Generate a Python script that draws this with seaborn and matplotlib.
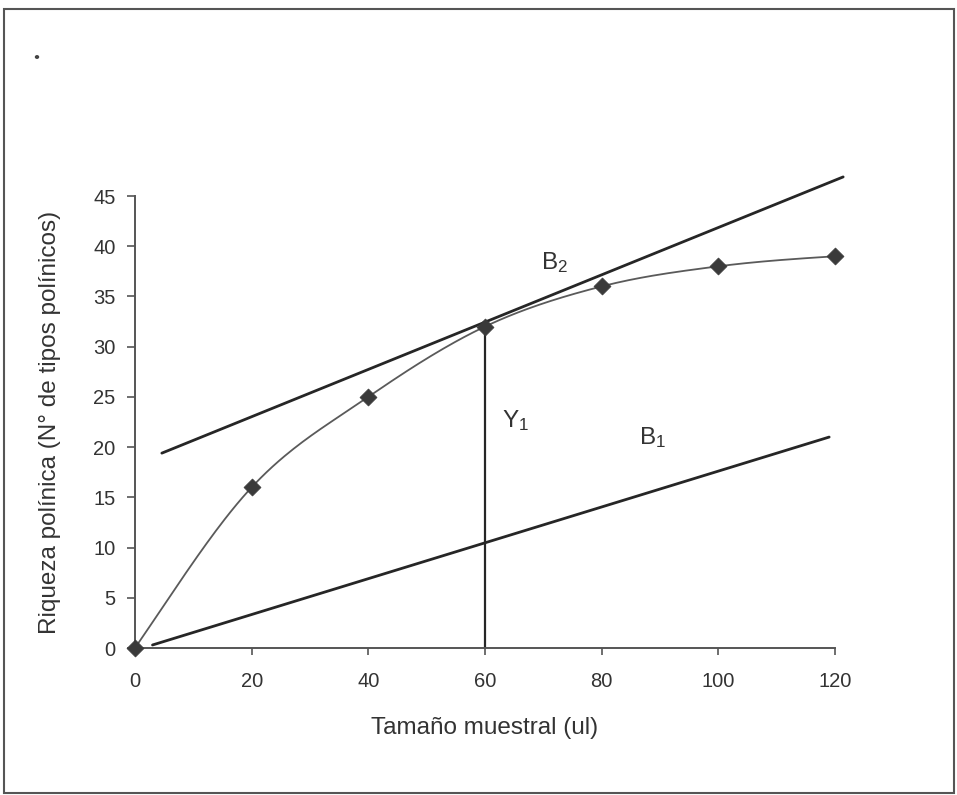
import numpy as np
import pandas as pd
import matplotlib
matplotlib.use("Agg")
import matplotlib.pyplot as plt
from matplotlib.patches import Rectangle
import seaborn as sns

# Pollen richness vs. sample size
sample_size = [0, 20, 40, 60, 80, 100, 120]
richness = [0, 16, 25, 32, 36, 38, 39]

# Reference slopes: B1 (through origin) and B2 (tangent at 60 ul)
b1_x = [3, 119]
b1_y = [0.3, 21.0]
b2_x = [4.6, 121.4]
b2_y = [19.4, 46.9]

# Vertical at the tangent point
y1_x = [60, 60]
y1_y = [0, 32]

x_ticks = [0, 20, 40, 60, 80, 100, 120]
y_ticks = [0, 5, 10, 15, 20, 25, 30, 35, 40, 45]

sns.set_style("ticks")
plt.rcParams["font.family"] = ["Liberation Sans", "DejaVu Sans"]
plt.rcParams["mathtext.fontset"] = "custom"
plt.rcParams["mathtext.rm"] = "Liberation Sans"
plt.rcParams["mathtext.it"] = "Liberation Sans"

W, H = 957, 795
fig = plt.figure(figsize=(W / 100, H / 100), dpi=100)
fig.patch.set_facecolor("white")

left, right, top, bottom = 135, 835, 196, 648
ax = fig.add_axes([left / W, 1 - bottom / H, (right - left) / W, (bottom - top) / H])
ax.set_xlim(0, 120)
ax.set_ylim(0, 45)

txt = "#333333"
line_dark = "#262626"
curve_col = "#5a5a5a"

# Smoothed curve: cubic Bezier segments in display space,
# Catmull-Rom tangents inside, softened end conditions
pts = np.column_stack([sample_size, richness]).astype(float)
disp = ax.transData.transform(pts)
n = len(disp)
tang = np.zeros_like(disp)
for i in range(1, n - 1):
    tang[i] = (disp[i + 1] - disp[i - 1]) / 2.0
tang[0] = 1.25 * (disp[1] - disp[0]) - 0.25 * tang[1]
tang[-1] = 1.5 * (disp[-1] - disp[-2]) - 0.5 * tang[-2]
seg = []
for i in range(n - 1):
    p1, p2 = disp[i], disp[i + 1]
    c1 = p1 + tang[i] / 3.0
    c2 = p2 - tang[i + 1] / 3.0
    t = np.linspace(0, 1, 40)[:, None]
    b = (1 - t) ** 3 * p1 + 3 * (1 - t) ** 2 * t * c1 + 3 * (1 - t) * t ** 2 * c2 + t ** 3 * p2
    seg.append(b if i == 0 else b[1:])
smooth = ax.transData.inverted().transform(np.vstack(seg))
curve_df = pd.DataFrame({"x": smooth[:, 0], "y": smooth[:, 1]})
sns.lineplot(data=curve_df, x="x", y="y", sort=False, ax=ax, color=curve_col, lw=1.3,
             estimator=None, clip_on=False)

# Straight reference lines
sns.lineplot(x=b1_x, y=b1_y, ax=ax, color=line_dark, lw=2.0, estimator=None, clip_on=False)
sns.lineplot(x=b2_x, y=b2_y, ax=ax, color=line_dark, lw=2.0, estimator=None, clip_on=False)
sns.lineplot(x=y1_x, y=y1_y, ax=ax, color=line_dark, lw=1.6, estimator=None, clip_on=False)

# Observed points
sns.scatterplot(x=sample_size, y=richness, ax=ax, marker="D", s=75, color="#3a3a3a",
                edgecolor="#3a3a3a", linewidth=0.5, zorder=5, clip_on=False)

# Annotations
ax.text(72, 38.4, r"B$_2$", fontsize=17.5, color=txt, ha="center", va="center")
ax.text(65.2, 22.6, r"Y$_1$", fontsize=17.5, color=txt, ha="center", va="center")
ax.text(88.7, 21.0, r"B$_1$", fontsize=17.5, color=txt, ha="center", va="center")

# Axes styling
ax.set_xticks(x_ticks)
ax.set_yticks(y_ticks)
ax.tick_params(axis="x", length=5, width=1.2, color="#555555", labelsize=14.5,
               labelcolor=txt, pad=12)
ax.tick_params(axis="y", length=6, width=1.2, color="#555555", labelsize=14.5,
               labelcolor=txt, pad=8)
for s in ["top", "right"]:
    ax.spines[s].set_visible(False)
for s in ["left", "bottom"]:
    ax.spines[s].set_color("#555555")
    ax.spines[s].set_linewidth(1.4)

ax.set_xlabel("Tamaño muestral (ul)", fontsize=17.5, color=txt, labelpad=19)
ax.set_ylabel("Riqueza polínica (N° de tipos polínicos)", fontsize=17.5, color=txt, labelpad=23)

# Outer frame
fig.add_artist(Rectangle((4 / W, 1 - 793 / H), (954 - 4) / W, (793 - 9) / H,
                         transform=fig.transFigure, fill=False, edgecolor="#555555", lw=1.5))
# Small dot near top-left corner
fig.add_artist(plt.Circle((37 / W, 1 - 57 / H), 1.5 / W, transform=fig.transFigure,
                          color="#444444"))

fig.savefig("out.png", dpi=100, facecolor="white")
